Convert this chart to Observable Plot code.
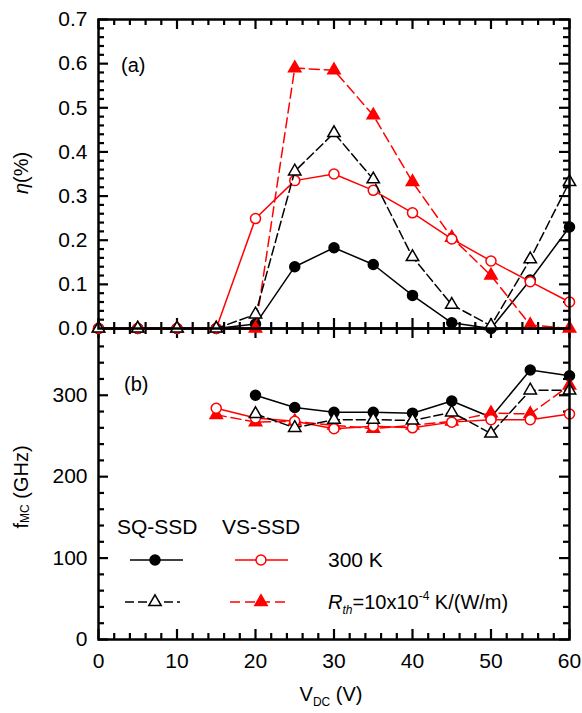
<!DOCTYPE html>
<html><head><meta charset="utf-8">
<script src="https://cdn.jsdelivr.net/npm/d3@7"></script>
<script src="https://cdn.jsdelivr.net/npm/@observablehq/plot@0.6"></script>
<style>
body{margin:0;background:#fff;}
#wrap{position:relative;width:582px;height:713px;background:#fff;font-family:"Liberation Sans",Arial,sans-serif;}
#wrap svg{position:absolute;left:0;overflow:visible;}
</style></head><body><div id="wrap"></div>
<script>
// ---- data ----
const voltage = [0,5,10,15,20,25,30,35,40,45,50,55,60];
const etaSQ300 = [0,0,0,0,0.01,0.14,0.183,0.145,0.075,0.013,0,0.11,0.23];
const etaSQRth = [0,0,0,0,0.032,0.356,0.443,0.338,0.162,0.054,0.006,0.157,0.332];
const etaVS300 = [0,0,0,0,0.249,0.335,0.35,0.313,0.262,0.203,0.153,0.106,0.06];
const etaVSRth = [0,0,0,0,0,0.59,0.585,0.483,0.332,0.206,0.12,0.008,0];

const voltageSQ = [20,25,30,35,40,45,50,55,60];
const fSQ300 = [300,285,279,279,278,293,273,331,324];
const fSQRth = [277,260,270,270,269,279,253,306,306];
const voltageVS = [15,20,25,30,35,40,45,50,55,60];
const fVS300 = [284,272,268,259,262,260,267,270,270,277];
const fVSRth = [276,267,268,263,259,263,268,278,277,312];

const xMajor = [0,10,20,30,40,50,60];
const etaMajor = [0,0.1,0.2,0.3,0.4,0.5,0.6,0.7];
const fMajor = [0,100,200,300];

const legendGroups = ["SQ-SSD","VS-SSD"];
const legendRows = ["300 K","Rth"];

// ---- styling ----
const series = [
  {name:"SQ300", stroke:"black", dash:null,  symbol:"circle",   fill:"black", r:5},
  {name:"VSRth", stroke:"#ff0000", dash:"10,5", symbol:"triangle", fill:"#ff0000", r:4.6},
  {name:"VS300", stroke:"#ff0000", dash:null,  symbol:"circle",   fill:"white", r:5},
  {name:"SQRth", stroke:"black", dash:"9,4", symbol:"triangle", fill:"white", r:4.6},
];
const etaData = {
  SQ300: voltage.map((v,i)=>({x:v,y:etaSQ300[i]})),
  SQRth: voltage.map((v,i)=>({x:v,y:etaSQRth[i]})),
  VS300: voltage.map((v,i)=>({x:v,y:etaVS300[i]})),
  VSRth: voltage.map((v,i)=>({x:v,y:etaVSRth[i]})),
};
const fData = {
  SQ300: voltageSQ.map((v,i)=>({x:v,y:fSQ300[i]})),
  SQRth: voltageSQ.map((v,i)=>({x:v,y:fSQRth[i]})),
  VS300: voltageVS.map((v,i)=>({x:v,y:fVS300[i]})),
  VSRth: voltageVS.map((v,i)=>({x:v,y:fVSRth[i]})),
};

const W = 582, ML = 98, MR = 13;
const FW = W - ML - MR; // frame width
// inward-pointing ticks on all four sides of a frame of height fh
function tickMarks(dim, values, len, fh){
  const o = {stroke:"black", strokeWidth:2.2};
  if (dim === "y") return [
    Plot.tickY(values, {...o, y:d=>d, insetRight:FW - len}),
    Plot.tickY(values, {...o, y:d=>d, insetLeft:FW - len})
  ];
  return [
    Plot.tickX(values, {...o, x:d=>d, insetTop:fh - len}),
    Plot.tickX(values, {...o, x:d=>d, insetBottom:fh - len})
  ];
}
const xMinor = d3.range(0,61,2).filter(v=>v%10!==0);
const etaMinor = d3.range(0,71,2).filter(v=>v%10!==0).map(v=>v/100);
const fMinor = d3.range(0,381,20).filter(v=>v%100!==0);

function dataMarks(dat){
  const m = [];
  for (const s of series){
    m.push(Plot.line(dat[s.name], {x:"x", y:"y", stroke:s.stroke, strokeWidth:1.5, strokeDasharray:s.dash}));
    m.push(Plot.dot(dat[s.name], {x:"x", y:"y", symbol:s.symbol, r:s.r, fill:s.fill, stroke:s.stroke, strokeWidth:1.5}));
  }
  return m;
}
const baseStyle = {fontSize:"21px", fontFamily:"Liberation Sans, Arial, sans-serif", color:"black", background:"transparent", overflow:"visible"};

const HA = 328, MTA = 19, FHA = HA - MTA;
const plotA = Plot.plot({
  width:W, height:HA, marginTop:MTA, marginBottom:0, marginLeft:ML, marginRight:MR,
  style: baseStyle,
  x:{domain:[0,60], axis:null},
  y:{domain:[0,0.7], axis:null},
  marks:[
    ...tickMarks("x", xMajor, 10, FHA), ...tickMarks("x", xMinor, 6, FHA),
    ...tickMarks("y", etaMajor, 10, FHA), ...tickMarks("y", etaMinor, 6, FHA),
    Plot.axisY(etaMajor, {tickSize:0, tickPadding:11, tickFormat:d=>d.toFixed(1), label:null, fontSize:21}),
    ...dataMarks(etaData),
    Plot.frame({stroke:"black", strokeWidth:2.5})
  ]
});
plotA.style.top = "0px"; plotA.style.zIndex = 2;

const HB = 385, MBB = 74, FHB = HB - MBB;
const plotB = Plot.plot({
  width:W, height:HB, marginTop:0, marginBottom:MBB, marginLeft:ML, marginRight:MR,
  style: baseStyle,
  x:{domain:[0,60], axis:null},
  y:{domain:[0,382], axis:null},
  marks:[
    ...tickMarks("x", xMajor, 10, FHB), ...tickMarks("x", xMinor, 6, FHB),
    ...tickMarks("y", fMajor, 10, FHB), ...tickMarks("y", fMinor, 6, FHB),
    Plot.axisY(fMajor, {tickSize:0, tickPadding:11, label:null, fontSize:21}),
    Plot.axisX(xMajor, {tickSize:0, tickPadding:14, label:null, fontSize:21}),
    ...dataMarks(fData),
    Plot.frame({stroke:"black", strokeWidth:2.5})
  ]
});
plotB.style.top = HA + "px"; plotB.style.zIndex = 1;

const wrap = document.getElementById("wrap");
wrap.appendChild(plotA);
wrap.appendChild(plotB);

// ---- overlay: axis titles, panel labels, legend ----
const ov = d3.select(wrap).append("svg").attr("width",582).attr("height",713)
  .style("top","0px").style("z-index",3)
  .attr("font-family","Liberation Sans, Arial, sans-serif").attr("font-size",21).attr("fill","black");

ov.append("text").attr("x",121).attr("y",72).text("(a)").attr("font-size",20);
ov.append("text").attr("x",124).attr("y",391).text("(b)").attr("font-size",20);

const eta = ov.append("text").attr("transform","translate(21,173) rotate(-90)")
  .attr("text-anchor","middle").attr("dominant-baseline","central").attr("font-size",20);
eta.append("tspan").attr("font-style","italic").text("η");
eta.append("tspan").text("(%)");

const fl = ov.append("text").attr("transform","translate(21,487) rotate(-90)")
  .attr("text-anchor","middle").attr("dominant-baseline","central").attr("font-size",20);
fl.append("tspan").text("f");
fl.append("tspan").attr("font-size",12).attr("dy",4).text("MC");
fl.append("tspan").attr("dy",-4).text(" (GHz)");

const vl = ov.append("text").attr("x",331).attr("y",701).attr("text-anchor","middle").attr("font-size",20);
vl.append("tspan").text("V");
vl.append("tspan").attr("font-size",12).attr("dy",5).text("DC");
vl.append("tspan").attr("dy",-5).text(" (V)");

ov.append("text").attr("x",117).attr("y",534).text(legendGroups[0]);
ov.append("text").attr("x",222).attr("y",534).text(legendGroups[1]);

const legItems = [
  {s:series[0], x:155, y:560, x1:130, x2:183},
  {s:series[2], x:261, y:560, x1:235, x2:288},
  {s:series[3], x:155, y:602, x1:125, x2:180},
  {s:series[1], x:261, y:602, x1:230, x2:285},
];
for (const it of legItems){
  ov.append("line").attr("x1",it.x1).attr("x2",it.x2).attr("y1",it.y).attr("y2",it.y)
    .attr("stroke",it.s.stroke).attr("stroke-width",1.5).attr("stroke-dasharray",it.s.dash);
  const sym = it.s.symbol === "circle" ? d3.symbolCircle : d3.symbolTriangle;
  ov.append("path").attr("d", d3.symbol(sym, Math.PI*it.s.r*it.s.r)())
    .attr("transform",`translate(${it.x},${it.y})`)
    .attr("fill",it.s.fill).attr("stroke",it.s.stroke).attr("stroke-width",1.5);
}
ov.append("text").attr("x",328).attr("y",567).text(legendRows[0]);
const rt = ov.append("text").attr("x",328).attr("y",609).attr("font-size",20);
rt.append("tspan").attr("font-style","italic").text("R");
rt.append("tspan").attr("font-style","italic").attr("font-size",12).attr("dy",5).text("th");
rt.append("tspan").attr("dy",-5).text("=10x10");
rt.append("tspan").attr("font-size",12).attr("dy",-9).text("-4");
rt.append("tspan").attr("dy",9).text(" K/(W/m)");
</script>
</body></html>
